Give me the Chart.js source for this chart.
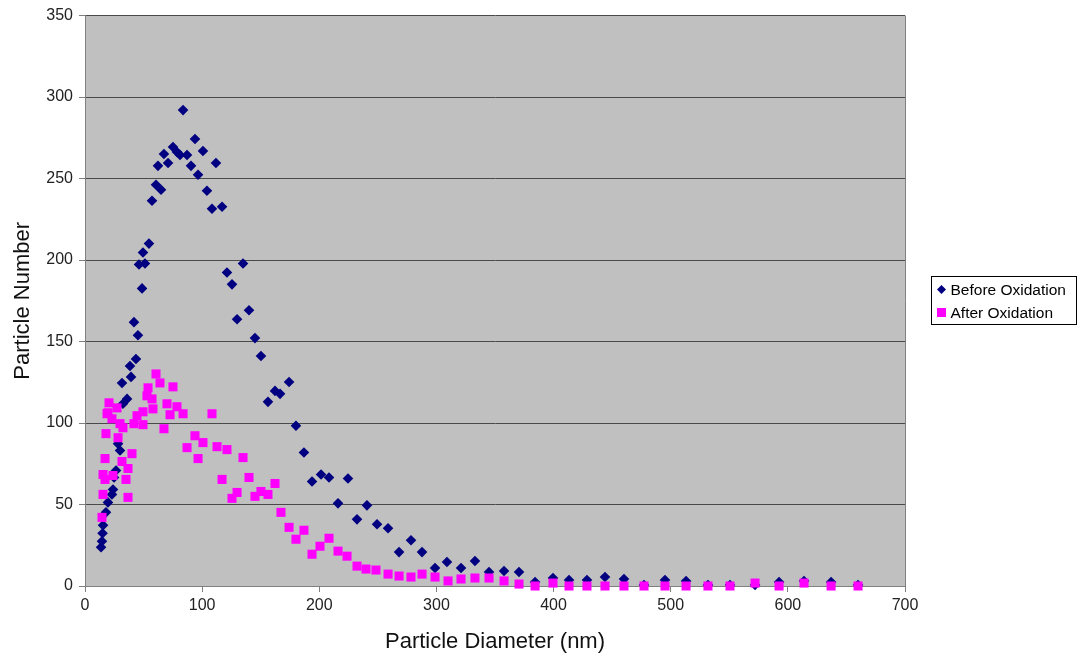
<!DOCTYPE html>
<html>
<head>
<meta charset="utf-8">
<title>Particle size distribution</title>
<script src="https://cdn.jsdelivr.net/npm/chart.js@4.4.1/dist/chart.umd.min.js"></script>
<style>
  html, body { margin: 0; padding: 0; background: #ffffff; }
  #wrap { width: 1077px; height: 659px; }
</style>
</head>
<body>
<div id="wrap"><canvas id="psdChart" width="1077" height="659"></canvas></div>
<script>
// Particle diameter (nm) and counts for each sample
const beforeDiameter = [13.7, 14.5, 15.0, 15.4, 17.9, 19.6, 23.0, 23.9, 24.8, 26.5, 28.2, 29.9, 32.4, 35.9, 31.6, 39.3,
    38.4, 43.5, 41.8, 45.2, 48.7, 51.2, 46.1, 49.5, 54.6, 57.2, 60.6, 64.9, 62.3, 67.4, 70.9, 75.1, 78.5, 81.1,
    87.1, 90.5, 83.7, 93.9, 100.7, 96.5, 111.8, 104.1, 108.4, 117.0, 121.2, 125.5, 134.9, 129.8, 140.0, 145.1,
    150.2, 156.2, 162.2, 166.5, 174.2, 180.1, 186.9, 193.8, 201.5, 208.3, 224.5, 216.0, 240.7, 232.2, 249.3,
    258.7, 268.1, 278.3, 287.7, 298.8, 309.0, 321.0, 332.9, 344.9, 357.7, 370.5, 384.2, 399.5, 413.2, 428.5,
    443.9, 460.1, 477.2, 495.1, 513.1, 531.8, 550.6, 572.0, 592.5, 613.8, 636.9, 659.9];
const beforeCount = [23.8, 27.5, 32.4, 37.3, 45.2, 51.3, 56.2, 59.2, 66.6, 70.9, 87.3, 83.1, 111.8, 114.8, 124.6, 128.3,
    135.0, 139.3, 161.9, 153.9, 182.6, 197.9, 197.3, 204.6, 210.1, 236.4, 246.2, 243.1, 257.8, 265.1, 259.6, 269.4,
    266.3, 264.5, 264.5, 257.8, 292.0, 274.3, 266.9, 252.3, 259.6, 242.5, 231.5, 232.7, 192.4, 185.1, 197.9,
    163.7, 169.2, 152.1, 141.1, 113.0, 119.7, 117.9, 125.2, 98.3, 81.9, 64.1, 68.4, 66.6, 66.0, 50.7, 49.5,
    40.9, 37.9, 35.4, 20.8, 28.1, 20.8, 11.0, 14.7, 11.0, 15.3, 8.6, 9.2, 8.6, 2.4, 4.9, 3.7, 3.7, 5.5, 4.3,
    0.6, 3.7, 3.1, 0.6, 0.6, 0.6, 2.4, 3.1, 2.4, 0.6];

const afterDiameter = [14.5, 15.4, 15.4, 17.1, 17.1, 17.9, 18.8, 20.5, 19.6, 23.0, 23.9, 27.3, 28.2, 29.9, 31.6, 32.4,
    35.0, 36.7, 36.7, 40.1, 41.8, 44.4, 49.5, 49.5, 52.9, 53.8, 57.2, 58.0, 60.6, 64.0, 67.4, 70.0, 72.6, 75.1,
    78.5, 83.7, 87.1, 93.9, 96.5, 100.7, 108.4, 112.7, 117.0, 121.2, 125.5, 129.8, 134.9, 140.0, 145.1, 150.2,
    156.2, 162.2, 167.3, 174.2, 180.1, 186.9, 193.8, 200.6, 208.3, 216.0, 223.7, 232.2, 239.9, 248.4, 258.7,
    268.1, 278.3, 287.7, 298.8, 309.9, 321.0, 332.9, 344.9, 357.7, 370.5, 384.2, 399.5, 413.2, 428.5, 443.9,
    460.1, 477.2, 495.1, 513.1, 531.8, 550.6, 572.0, 592.5, 613.8, 636.9, 659.9];
const afterCount = [42.1, 56.2, 68.4, 65.4, 78.2, 93.5, 105.7, 112.4, 106.3, 102.6, 67.8, 109.3, 91.0, 99.6, 76.4, 97.1,
    65.4, 72.1, 54.4, 81.2, 99.6, 104.5, 106.9, 99.0, 116.7, 121.6, 114.8, 108.7, 130.1, 124.6, 96.5, 111.8,
    105.1, 122.2, 110.0, 105.7, 84.9, 92.2, 78.2, 88.0, 105.7, 85.5, 65.4, 83.7, 53.8, 57.4, 78.8, 66.6, 55.0,
    58.0, 56.2, 62.9, 45.2, 36.0, 28.7, 34.2, 19.5, 24.4, 29.3, 21.4, 18.3, 12.2, 10.4, 9.8, 7.3, 6.1, 5.5,
    7.3, 5.5, 3.1, 4.3, 4.9, 4.9, 3.1, 1.2, 0, 1.8, 0, 0, 0, 0, 0, 0, 0, 0, 0, 1.8, 0, 1.8, 0, 0];

const xTicks = [0, 100, 200, 300, 400, 500, 600, 700];
const yTicks = [0, 50, 100, 150, 200, 250, 300, 350];

const FONT = "'Liberation Sans', Arial, sans-serif";

function toPoints(xs, ys) {
    return xs.map((x, i) => ({ x: x, y: ys[i] }));
}

// grey plot area with a thin frame, like the old spreadsheet charts
const plotBackground = {
    id: 'plotBackground',
    beforeDraw(chart) {
        const { ctx, chartArea: a } = chart;
        ctx.save();
        ctx.fillStyle = '#c0c0c0';
        ctx.fillRect(a.left, a.top, a.right - a.left, a.bottom - a.top);
        ctx.restore();
    },
    afterDatasetsDraw(chart) {
        const { ctx, chartArea: a } = chart;
        ctx.save();
        ctx.strokeStyle = '#808080';
        ctx.lineWidth = 1;
        ctx.beginPath();
        ctx.moveTo(a.right + 0.5, a.top);
        ctx.lineTo(a.right + 0.5, a.bottom);
        ctx.stroke();
        ctx.restore();
    }
};

// boxed legend to the right of the plot
const boxLegend = {
    id: 'boxLegend',
    afterDraw(chart) {
        const ctx = chart.ctx;
        const left = 931.5, top = 276.5, w = 145, h = 48;
        ctx.save();
        ctx.fillStyle = '#ffffff';
        ctx.fillRect(left, top, w, h);
        ctx.strokeStyle = '#000000';
        ctx.lineWidth = 1;
        ctx.strokeRect(left, top, w, h);
        ctx.font = '15.5px ' + FONT;
        ctx.textBaseline = 'middle';
        chart.data.datasets.forEach((ds, i) => {
            const cy = top + 13 + i * 23;
            const cx = left + 10;
            ctx.fillStyle = ds.backgroundColor;
            if (ds.pointStyle === 'rectRot') {
                ctx.beginPath();
                ctx.moveTo(cx, cy - 4.5);
                ctx.lineTo(cx + 4.5, cy);
                ctx.lineTo(cx, cy + 4.5);
                ctx.lineTo(cx - 4.5, cy);
                ctx.closePath();
                ctx.fill();
            } else {
                ctx.fillRect(cx - 4.5, cy - 4.5, 9, 9);
            }
            ctx.fillStyle = '#000000';
            ctx.fillText(ds.label, left + 19, cy + 1);
        });
        ctx.restore();
    }
};

const ctx = document.getElementById('psdChart').getContext('2d');
const psdChart = new Chart(ctx, {
    type: 'scatter',
    data: {
        datasets: [{
            label: 'Before Oxidation',
            data: toPoints(beforeDiameter, beforeCount),
            pointStyle: 'rectRot',
            pointRadius: 5.3,
            borderWidth: 0,
            backgroundColor: '#000080',
            borderColor: '#000080',
            clip: false,
            order: 2
        }, {
            label: 'After Oxidation',
            data: toPoints(afterDiameter, afterCount),
            pointStyle: 'rect',
            pointRadius: 6.4,
            borderWidth: 0,
            backgroundColor: '#ff00ff',
            borderColor: '#ff00ff',
            clip: false,
            order: 1
        }]
    },
    options: {
        responsive: false,
        animation: false,
        events: [],
        layout: { padding: { top: 13, right: 172, left: 0, bottom: 0 } },
        plugins: {
            legend: { display: false },
            tooltip: { enabled: false }
        },
        scales: {
            x: {
                type: 'linear',
                min: 0,
                max: 700,
                afterFit(scale) { scale.height = 73; },
                afterBuildTicks(scale) { scale.ticks = xTicks.map(v => ({ value: v })); },
                border: { color: '#808080', width: 1 },
                grid: { drawOnChartArea: false, drawTicks: true, tickLength: 6, tickColor: '#808080' },
                ticks: { color: '#222222', font: { family: FONT, size: 16 }, padding: 4, maxRotation: 0 },
                title: {
                    display: true,
                    text: 'Particle Diameter (nm)',
                    color: '#111111',
                    font: { family: FONT, size: 22 },
                    padding: { top: 0, bottom: 4 }
                }
            },
            y: {
                type: 'linear',
                min: 0,
                max: 350,
                afterFit(scale) { scale.width = 85; },
                afterBuildTicks(scale) { scale.ticks = yTicks.map(v => ({ value: v })); },
                border: { color: '#808080', width: 1 },
                grid: { color: '#4a4a4a', lineWidth: 1, drawTicks: true, tickLength: 6, tickColor: '#808080' },
                ticks: { color: '#222222', font: { family: FONT, size: 16 }, padding: 6 },
                title: {
                    display: true,
                    text: 'Particle Number',
                    color: '#111111',
                    font: { family: FONT, size: 22 },
                    padding: { top: 10, bottom: 0 }
                }
            }
        }
    },
    plugins: [plotBackground, boxLegend]
});
</script>
</body>
</html>
